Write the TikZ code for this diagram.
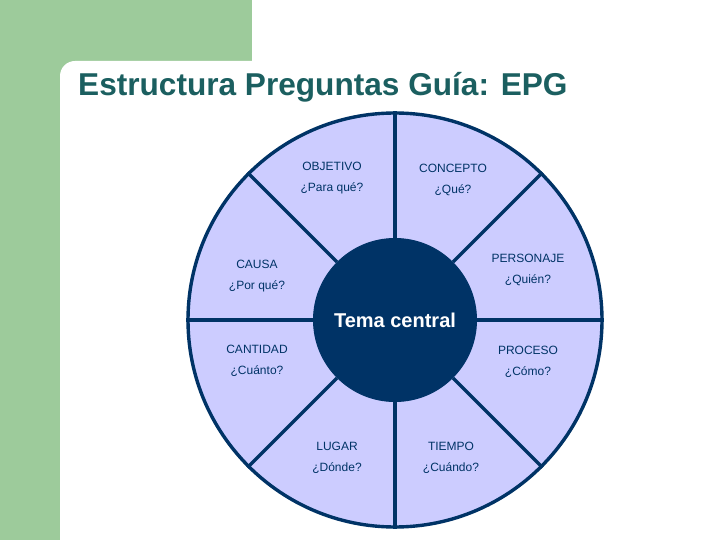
\documentclass[tikz,border=0pt]{standalone}
\usepackage{fontspec}
\setmainfont{Liberation Sans}
\usetikzlibrary{positioning}
\definecolor{leafgreen}{HTML}{9DCB9B}
\definecolor{titleteal}{HTML}{1B5F60}
\definecolor{wheelnavy}{HTML}{003366}
\definecolor{wheelfill}{HTML}{CCCCFF}
\tikzset{
    wheel/.style={
        circle,
        draw=wheelnavy,
        fill=wheelfill,
        line width=3.4pt,
        minimum size=414pt,
        inner sep=0pt
    },
    hub/.style={
        circle,
        draw=wheelnavy,
        fill=wheelnavy,
        line width=1pt,
        minimum size=163pt,
        inner sep=0pt,
        text=white,
        font=\fontsize{20}{24}\selectfont\bfseries
    },
    spoke/.style={
        draw=wheelnavy,
        line width=3.4pt
    },
    question/.style={
        align=center,
        text=wheelnavy,
        inner sep=0pt,
        font=\fontsize{12}{21}\selectfont
    }
}

\begin{document}
\begin{tikzpicture}[x=1pt, y=-1pt]

% Page and background
\useasboundingbox (0,0) rectangle (720,540);
\fill[leafgreen] (0,0) rectangle (720,540);
\fill[white, rounded corners=15pt] (60,61) rectangle (780,600);
\fill[white] (252,0) rectangle (720,120);

% Title
\node[anchor=base west, inner sep=0pt, text=titleteal,
      font=\fontsize{31.6}{36}\selectfont\bfseries] (title) at (78,96)
{Estructura Preguntas Guía: EPG};

% Wheel and centre
\node[wheel] (wheel) at (395,320) {};
\node[hub] (hub) at (wheel.center) {};

% Spokes between hub and rim
\foreach \a in {0,45,...,315}
    \draw[spoke] (hub.\a) -- (wheel.\a);

\node[hub, draw=none, fill=none] (topic) at (wheel.center) {Tema central};

% Questions round the wheel
\node[question] (objetivo) at (332,178) {OBJETIVO\\¿Para qué?};
\node[question] (concepto) at (453,180) {CONCEPTO\\¿Qué?};
\node[question] (personaje) at (528,270) {PERSONAJE\\¿Quién?};
\node[question] (causa) at (257,276) {CAUSA\\¿Por qué?};
\node[question] (cantidad) at (257,361) {CANTIDAD\\¿Cuánto?};
\node[question] (proceso) at (528,362) {PROCESO\\¿Cómo?};
\node[question] (lugar) at (337,458) {LUGAR\\¿Dónde?};
\node[question] (tiempo) at (451,458) {TIEMPO\\¿Cuándo?};

\end{tikzpicture}
\end{document}
